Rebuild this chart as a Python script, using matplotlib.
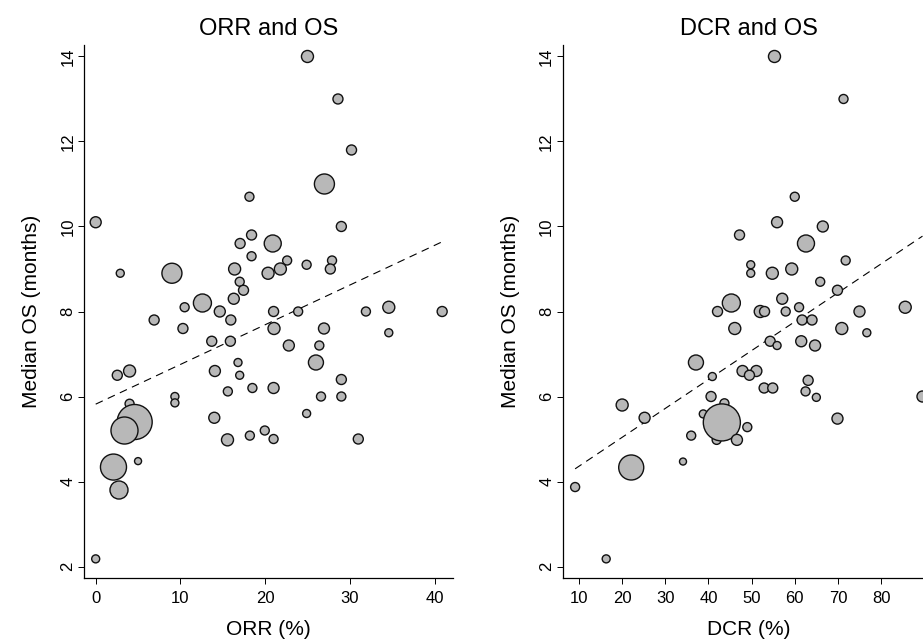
import numpy as np
import matplotlib
matplotlib.use('Agg')
import matplotlib.pyplot as plt

plt.rcParams['font.family'] = ['Liberation Sans', 'DejaVu Sans']

# ORR vs median OS (n = bubble weight, area proportional)
orr_x = [25.0, 28.6, 30.2, 27.0, 18.15, 0.0, 29.0, 18.4, 17.05, 20.9,
         18.4, 22.6, 27.9, 24.9, 27.7, 9.0, 2.9, 16.4, 20.35, 21.8,
         17.0, 17.45, 16.3, 12.6, 10.5, 14.65, 21.0, 23.9, 31.9, 34.6,
         40.9, 6.9, 15.95, 10.3, 21.05, 26.95, 13.7, 15.9, 34.6, 22.8,
         26.4, 16.8, 26.0, 4.0, 14.07, 2.55, 17.0, 29.0, 18.5, 21.0,
         15.6, 9.35, 9.35, 26.6, 29.0, 4.0, 4.6, 3.4, 14.0, 24.9,
         19.96, 18.2, 15.56, 21.0, 31.0, 5.0, 2.1, 2.75, 0.0]
orr_os = [14.0, 13.0, 11.8, 11.0, 10.7, 10.1, 10.0, 9.8, 9.6, 9.6,
          9.3, 9.2, 9.2, 9.1, 9.0, 8.9, 8.9, 9.0, 8.9, 9.0,
          8.7, 8.5, 8.3, 8.2, 8.1, 8.0, 8.0, 8.0, 8.0, 8.1,
          8.0, 7.8, 7.8, 7.6, 7.6, 7.6, 7.3, 7.3, 7.5, 7.2,
          7.2, 6.8, 6.8, 6.6, 6.6, 6.5, 6.5, 6.4, 6.2, 6.2,
          6.12, 6.0, 5.85, 6.0, 6.0, 5.83, 5.4, 5.2, 5.5, 5.6,
          5.2, 5.08, 4.98, 5.0, 5.0, 4.48, 4.34, 3.8, 2.18]
orr_n = [144, 100, 100, 400, 81, 121, 100, 100, 100, 289,
         81, 81, 81, 81, 100, 400, 64, 144, 144, 144,
         81, 100, 121, 324, 81, 121, 100, 81, 81, 144,
         100, 100, 100, 100, 144, 121, 100, 100, 64, 121,
         81, 64, 225, 144, 121, 100, 64, 100, 81, 121,
         81, 64, 64, 81, 81, 81, 1225, 729, 121, 64,
         81, 81, 144, 81, 100, 49, 676, 324, 64]
orr_fit = [5.82, 0.0934]   # intercept, slope

# DCR vs median OS
dcr_x = [55.3, 71.3, 60.0, 55.9, 66.5, 47.2, 62.6, 71.8, 49.8, 49.8,
         54.8, 59.3, 65.9, 69.9, 45.3, 57.1, 42.1, 52.0, 53.0, 57.9,
         61.0, 75.0, 85.6, 61.7, 64.0, 46.1, 70.9, 76.7, 54.3, 55.9,
         61.5, 64.7, 37.1, 47.9, 51.1, 40.9, 49.5, 63.1, 52.9, 54.9,
         62.5, 65.0, 89.6, 40.6, 20.0, 43.7, 25.2, 38.8, 41.9, 43.1,
         49.0, 36.0, 46.6, 69.9, 34.1, 22.1, 9.1, 16.3]
dcr_os = [14.0, 13.0, 10.7, 10.1, 10.0, 9.8, 9.6, 9.2, 9.1, 8.9,
          8.9, 9.0, 8.7, 8.5, 8.2, 8.3, 8.0, 8.0, 8.0, 8.0,
          8.1, 8.0, 8.1, 7.8, 7.8, 7.6, 7.6, 7.5, 7.3, 7.2,
          7.3, 7.2, 6.8, 6.6, 6.6, 6.47, 6.5, 6.38, 6.2, 6.2,
          6.12, 5.98, 6.0, 6.0, 5.8, 5.84, 5.5, 5.59, 4.98, 5.39,
          5.28, 5.08, 4.98, 5.48, 4.47, 4.33, 3.87, 2.18]
dcr_n = [144, 81, 81, 121, 121, 100, 289, 81, 64, 64,
         144, 144, 81, 100, 324, 121, 100, 144, 100, 81,
         81, 121, 144, 100, 100, 144, 144, 64, 100, 64,
         121, 121, 225, 121, 121, 64, 100, 100, 100, 100,
         81, 64, 121, 100, 144, 81, 121, 64, 81, 1369,
         81, 81, 121, 121, 49, 625, 81, 64]
dcr_fit = [3.68, 0.068]

fig = plt.figure(figsize=(9.23, 6.41), dpi=100)
ax1 = fig.add_axes([84 / 923, 63 / 641, 369 / 923, 533 / 641])
ax2 = fig.add_axes([563 / 923, 63 / 641, 372 / 923, 533 / 641])

panels = [
    (ax1, orr_x, orr_os, orr_n, orr_fit, 'ORR and OS', 'ORR (%)', (-1.38, 42.18), [0, 10, 20, 30, 40]),
    (ax2, dcr_x, dcr_os, dcr_n, dcr_fit, 'DCR and OS', 'DCR (%)', (6.29, 92.5), [10, 20, 30, 40, 50, 60, 70, 80]),
]

for ax, x, y, n, fit, title, xlabel, xlim, xticks in panels:
    s = np.array(n) * 0.52
    ax.scatter(x, y, s=s, facecolor='#b8b8b8', edgecolor='#111111', linewidths=1.0, zorder=3)
    xs = np.array([min(x), max(x)])
    ax.plot(xs, fit[0] + fit[1] * xs, color='black', lw=0.8, linestyle=(0, (7, 5)), zorder=2)
    ax.set_xlim(*xlim)
    ax.set_ylim(1.73, 14.27)
    ax.set_xticks(xticks)
    ax.set_yticks([2, 4, 6, 8, 10, 12, 14])
    ax.spines['top'].set_visible(False)
    ax.spines['right'].set_visible(False)
    for sp in ('left', 'bottom'):
        ax.spines[sp].set_linewidth(0.9)
    ax.tick_params(axis='both', length=4.3, width=0.7, labelsize=12)
    ax.tick_params(axis='x', pad=5)
    ax.tick_params(axis='y', pad=2)
    for lab in ax.get_yticklabels():
        lab.set_rotation(90)
        lab.set_va('center')
    ax.set_title(title, fontsize=17, pad=7)
    ax.set_xlabel(xlabel, fontsize=15, labelpad=10)
    ax.set_ylabel('Median OS (months)', fontsize=15, labelpad=14)

fig.savefig('out.png', dpi=100)
